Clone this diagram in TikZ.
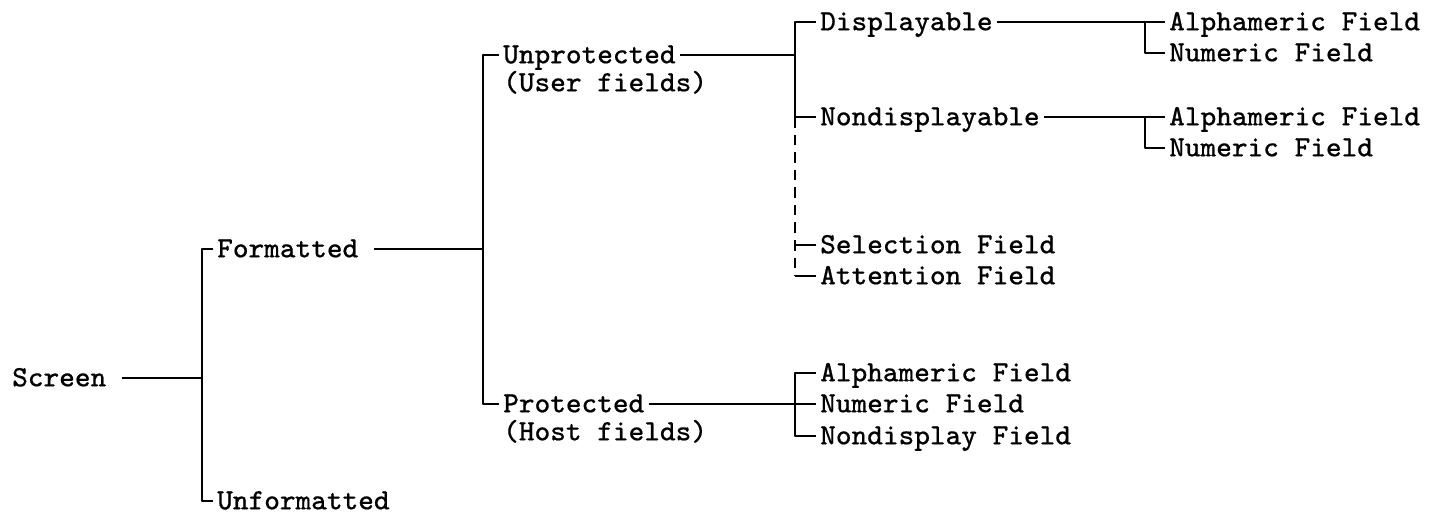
\documentclass[tikz,border=0pt]{standalone}
\usepackage{fontspec}
\setmonofont{Latin Modern Mono}[FakeBold=0.5]
\begin{document}
\begin{tikzpicture}[font=\fontsize{8.4}{9}\selectfont\ttfamily, line join=round, line width=0.8pt,
	lbl/.style={anchor=west, inner sep=0.8pt, text height=1.5ex, text depth=0.4ex},
	opt/.style={dash pattern=on 3pt off 2pt}]
	\useasboundingbox (0,0) rectangle (14.37,5.13);
	% screen
	\coordinate (b1) at (2.02,1.35);
	\node[lbl] (screen) at (0.08,1.35) {Screen};
	\node[lbl] (fmt) at (2.13,2.64) {Formatted};
	\node[lbl] (unfmt) at (2.13,0.12) {Unformatted};
	\draw ([xshift=3.4pt]screen.east) -- (b1);
	\draw (fmt.west) -| (b1) |- (unfmt.west);
	% formatted
	\coordinate (b2) at (4.83,2.64);
	\node[lbl] (unprot) at (4.99,4.58) {Unprotected};
	\node[lbl] (userf) at (4.99,4.30) {(User fields)};
	\node[lbl] (prot) at (4.99,1.09) {Protected};
	\node[lbl] (hostf) at (4.99,0.81) {(Host fields)};
	\draw ([xshift=3.4pt]fmt.east) -- (b2);
	\draw (unprot.west) -| (b2) |- (prot.west);
	% unprotected
	\coordinate (b3) at (7.95,4.58);
	\node[lbl] (disp) at (8.16,4.91) {Displayable};
	\node[lbl] (ndisp) at (8.16,3.96) {Nondisplayable};
	\node[lbl] (sel) at (8.16,2.68) {Selection Field};
	\node[lbl] (att) at (8.16,2.37) {Attention Field};
	\draw (unprot.east) -- (b3);
	\draw (disp.west) -| (b3) |- (ndisp.west);
	\draw[opt] (ndisp.west -| b3) -- (att.west -| b3);
	\draw (sel.west) -- (sel.west -| b3);
	\draw (att.west) -- (att.west -| b3);
	% protected
	\coordinate (b4) at (7.95,1.09);
	\node[lbl] (pa) at (8.16,1.40) {Alphameric Field};
	\node[lbl] (pn) at (8.16,1.09) {Numeric Field};
	\node[lbl] (pnd) at (8.16,0.77) {Nondisplay Field};
	\draw (prot.east) -- (b4) -- (pn.west);
	\draw (pa.west) -| (b4) |- (pnd.west);
	% displayable / nondisplayable
	\coordinate (b5) at (11.45,4.91);
	\node[lbl] (da) at (11.65,4.91) {Alphameric Field};
	\node[lbl] (dn) at (11.65,4.60) {Numeric Field};
	\draw (disp.east) -- (da.west);
	\draw (b5) |- (dn.west);
	\coordinate (b6) at (11.45,3.96);
	\node[lbl] (na) at (11.65,3.96) {Alphameric Field};
	\node[lbl] (nn) at (11.65,3.65) {Numeric Field};
	\draw (ndisp.east) -- (na.west);
	\draw (b6) |- (nn.west);
\end{tikzpicture}
\end{document}
